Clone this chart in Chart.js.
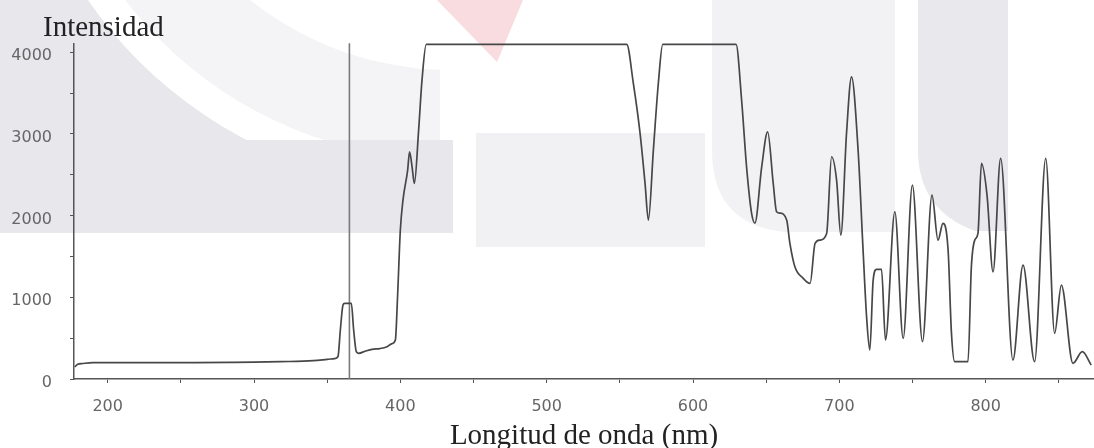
<!DOCTYPE html>
<html>
<head>
<meta charset="utf-8">
<script src="https://cdn.jsdelivr.net/npm/chart.js@4.4.1/dist/chart.umd.min.js"></script>
<style>
  html, body { margin: 0; padding: 0; background: #fff; }
  #wrap { width: 1094px; height: 448px; }
</style>
</head>
<body>
<div id="wrap"><canvas id="myChart" width="1094" height="448"></canvas></div>
<script>

const wavelength = [177.5, 179.5, 183, 189.8, 222.5, 260, 286, 300, 318, 340.6, 350, 355, 357.4,
  359.0, 360.8, 362, 366.5, 368.1, 369.9, 371.5, 376, 380.7, 386, 390.9, 394, 396.6, 398.1,
  400, 401.8, 405, 406.3, 408, 409.6, 412.5, 414.8, 417.7, 554.7, 559.2, 563.8, 567.2, 569.5,
  572.9, 576.3, 579.3, 629.4, 633.2, 636.6, 640.0, 642.3, 646.9, 651.0, 654.8, 657.1, 659.4,
  664.0, 666.2, 669.6, 675.3, 680.0, 683.4, 686.8, 691.3, 694.7, 698.1, 701.0, 704.9, 708.3,
  712.8, 716.2, 718.6, 720.8, 723.1, 725.4, 728.8, 731.5, 737.9, 743.6, 749.9, 756.8, 763.3,
  767.4, 770.8, 774.3, 776.6, 778.8, 787.9, 790.2, 792.5, 794.7, 797.1, 800.9, 805.0, 810.2,
  818.6, 825.5, 833.4, 841.0, 847.1, 851.7, 859.6, 866.0, 872.1];

const intensity = [147, 180, 190, 200, 200, 200, 203, 206, 212, 224, 240, 250, 275,
  600, 905, 926, 926, 600, 334, 314, 340, 363, 372, 395, 430, 477, 1007,
  1823, 2190, 2557, 2781, 2600, 2394, 3046, 3657, 4095, 4095, 3620, 3009, 2397, 1945,
  2801, 3620, 4095, 4095, 3413, 2593, 2030, 1908, 2593, 3025, 2394, 2047, 2030,
  1945, 1660, 1374, 1232, 1170, 1660, 1700, 1782, 2720, 2434, 1761, 3009, 3698,
  2801, 1578, 762, 355, 1211, 1342, 1342, 477, 2047, 498, 2373, 457, 2251,
  1700, 1905, 1578, 559, 212, 212, 1374, 1700, 1782, 2638, 2251, 1312, 2700,
  232, 1394, 212, 2700, 559, 1150, 192, 334, 171];

const markerNm = 365.2;
const xTicks = [200, 250, 300, 350, 400, 450, 500, 550, 600, 650, 700, 750, 800, 850];
const xTicksLabeled = [200, 300, 400, 500, 600, 700, 800];
const yTicks = [0, 500, 1000, 1500, 2000, 2500, 3000, 3500, 4000];
const yTicksLabeled = [0, 1000, 2000, 3000, 4000];

const axisColor = '#555';
const labelColor = '#666';

const spectrum = wavelength.map((w, i) => ({ x: w, y: intensity[i] }));
const marker = [{ x: markerNm, y: 0 }, { x: markerNm, y: 4110 }];

// faint thesis watermark behind the plot
const watermark = {
  id: 'watermark',
  beforeDraw: (chart) => {
    const ctx = chart.ctx;
    ctx.save();
    ctx.fillStyle = '#fff';
    ctx.fillRect(0, 0, chart.width, chart.height);

    // light ring, left part only
    ctx.save();
    ctx.beginPath();
    ctx.rect(0, 0, 440, 233);
    ctx.clip();
    ctx.fillStyle = '#f4f4f6';
    ctx.beginPath();
    ctx.arc(450, -250, 410, 0, Math.PI * 2);
    ctx.arc(450, -250, 320, 0, Math.PI * 2, true);
    ctx.fill();
    ctx.restore();

    // dark band left
    ctx.save();
    ctx.beginPath();
    ctx.rect(0, 0, 453, 233);
    ctx.clip();
    ctx.fillStyle = '#e7e7ec';
    ctx.beginPath();
    ctx.rect(0, 0, 453, 233);
    ctx.arc(450, -250, 440, 0, Math.PI * 2, true);
    ctx.fill();
    ctx.fillRect(0, 140, 453, 93);
    ctx.restore();

    ctx.fillStyle = '#f1f1f4';
    ctx.fillRect(476, 133, 229, 114);

    ctx.fillStyle = '#f9dcdf';
    ctx.beginPath();
    ctx.moveTo(437, 0);
    ctx.lineTo(523, 0);
    ctx.lineTo(497, 62);
    ctx.closePath();
    ctx.fill();

    ctx.fillStyle = '#f2f2f5';
    ctx.beginPath();
    ctx.moveTo(712, 0);
    ctx.lineTo(895, 0);
    ctx.lineTo(895, 232);
    ctx.lineTo(785, 232);
    ctx.quadraticCurveTo(712, 225, 712, 150);
    ctx.closePath();
    ctx.fill();

    ctx.fillStyle = '#e8e8ed';
    ctx.beginPath();
    ctx.moveTo(918, 0);
    ctx.lineTo(1008, 0);
    ctx.lineTo(1008, 231);
    ctx.lineTo(975, 231);
    ctx.quadraticCurveTo(918, 210, 918, 150);
    ctx.closePath();
    ctx.fill();
    ctx.restore();
  }
};

const yTitle = {
  id: 'yTitle',
  afterDraw: (chart) => {
    const ctx = chart.ctx;
    ctx.save();
    ctx.font = '29px "Liberation Serif"';
    ctx.fillStyle = '#222';
    ctx.textBaseline = 'alphabetic';
    ctx.textAlign = 'left';
    ctx.fillText('Intensidad', 43, 36);
    ctx.restore();
  }
};

new Chart(document.getElementById('myChart'), {
  type: 'line',
  data: {
    datasets: [
      {
        data: spectrum,
        borderColor: '#474747',
        borderWidth: 1.7,
        pointRadius: 0,
        cubicInterpolationMode: 'monotone',
        fill: false
      },
      {
        data: marker,
        borderColor: '#7a7a7a',
        borderWidth: 1.6,
        pointRadius: 0,
        fill: false
      }
    ]
  },
  options: {
    responsive: false,
    animation: false,
    devicePixelRatio: 1,
    clip: false,
    layout: { padding: { top: 44, right: 0, bottom: 0, left: 0 } },
    plugins: { legend: { display: false }, tooltip: { enabled: false } },
    scales: {
      x: {
        type: 'linear',
        min: 177,
        max: 874,
        afterFit: (scale) => { scale.height = 69; },
        afterBuildTicks: (scale) => { scale.ticks = xTicks.map((v) => ({ value: v })); },
        border: { display: true, color: axisColor, width: 1.5 },
        grid: { drawOnChartArea: false, drawTicks: true, tickLength: 4, color: axisColor },
        ticks: {
          padding: 14,
          maxRotation: 0,
          autoSkip: false,
          color: labelColor,
          font: { family: '"DejaVu Sans"', size: 16 },
          callback: (v) => xTicksLabeled.includes(v) ? String(v) : ''
        },
        title: {
          display: true,
          text: 'Longitud de onda (nm)',
          color: '#222',
          font: { family: '"Liberation Serif"', size: 29, lineHeight: 0.8 },
          padding: { top: 0, bottom: 0 }
        }
      },
      y: {
        min: 0,
        max: 4100,
        afterFit: (scale) => { scale.width = 74; },
        afterBuildTicks: (scale) => { scale.ticks = yTicks.map((v) => ({ value: v })); },
        border: { display: true, color: axisColor, width: 1.5 },
        grid: { drawOnChartArea: false, drawTicks: true, tickLength: 4, color: axisColor },
        ticks: {
          padding: 18,
          labelOffset: 4,
          autoSkip: false,
          color: labelColor,
          font: { family: '"DejaVu Sans"', size: 16 },
          callback: (v) => yTicksLabeled.includes(v) ? String(v) : ''
        }
      }
    }
  },
  plugins: [watermark, yTitle]
});
</script>
</body>
</html>
